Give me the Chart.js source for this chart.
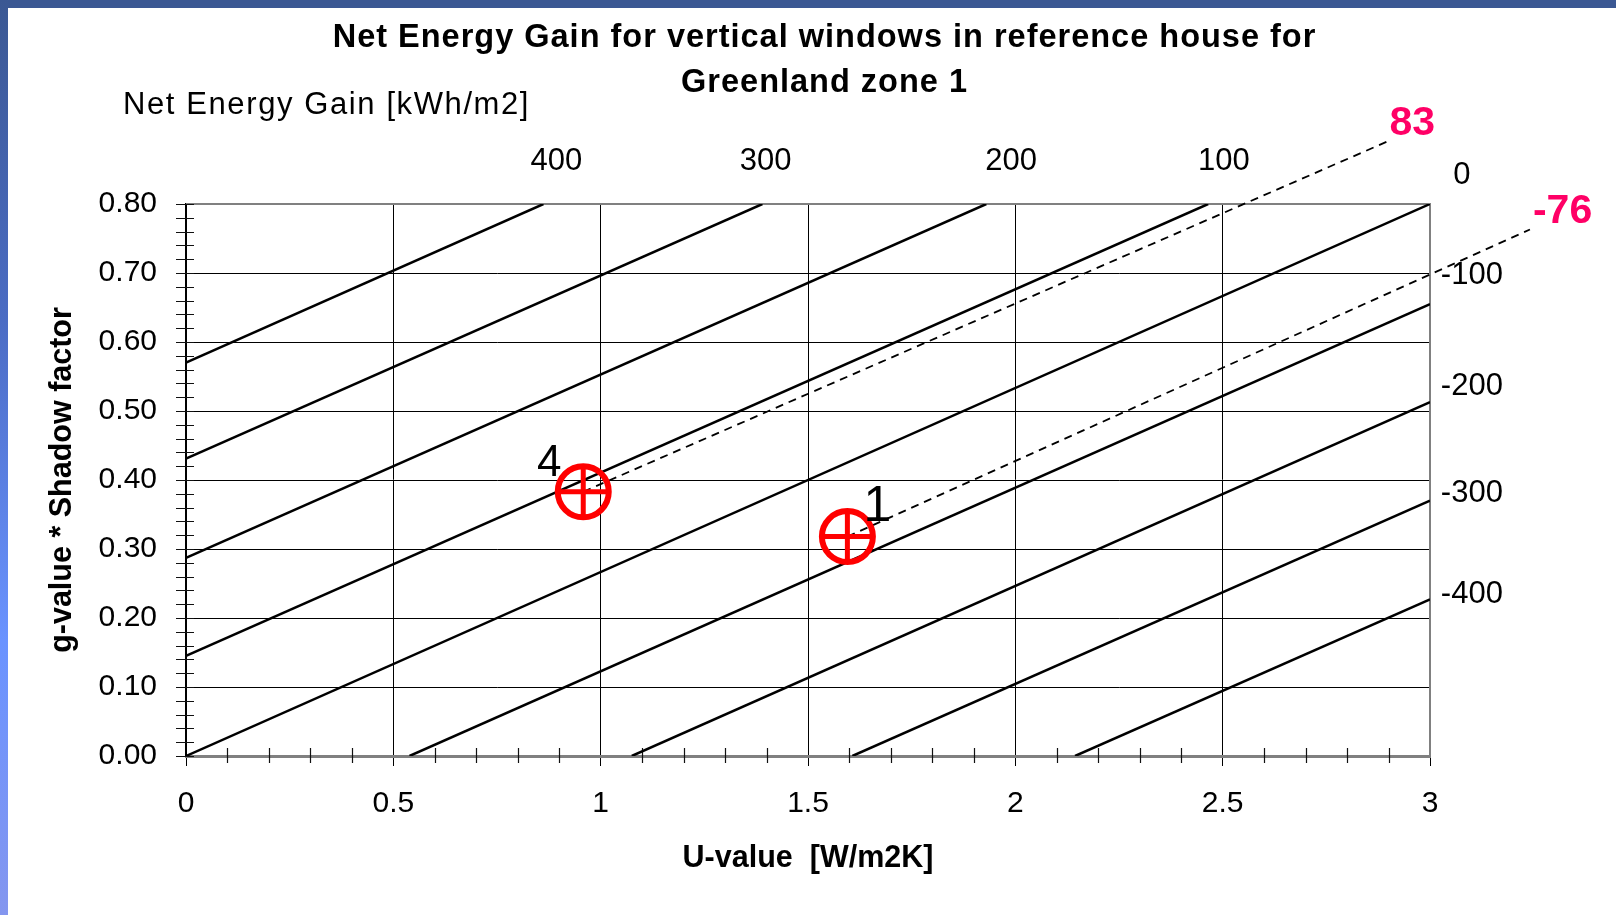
<!DOCTYPE html>
<html>
<head>
<meta charset="utf-8">
<script src="https://cdn.jsdelivr.net/npm/chart.js@4.4.1/dist/chart.umd.min.js"></script>
<style>
  html, body { margin: 0; padding: 0; background: #ffffff; width: 1616px; height: 915px; overflow: hidden; }
  #topbar { position: absolute; left: 0; top: 0; width: 1616px; height: 8px; background: #3b5893; }
  #leftbar { position: absolute; left: 0; top: 0; width: 8px; height: 915px;
             background: linear-gradient(#3b5893 0%, #4b6cc4 35%, #6a93ff 70%, #8496ef 100%); }
  #wrap { position: absolute; left: 0; top: 0; width: 1616px; height: 915px; }
</style>
</head>
<body>
<div id="topbar"></div>
<div id="leftbar"></div>
<div id="wrap"><canvas id="c" width="1616" height="915"></canvas></div>
<script>
// ---------------- text ----------------
const titleLines = ['Net Energy Gain for vertical windows in reference house for', 'Greenland zone 1'];
const xTitle = 'U-value  [W/m2K]';
const yTitle = 'g-value * Shadow factor';
const gainAxisTitle = 'Net Energy Gain [kWh/m2]';

// ---------------- iso-lines of net energy gain (kWh/m2) ----------------
const energyLevels = [400, 300, 200, 100, 0, -100, -200, -300, -400];
const lineStartU  = [0, 0, 0, 0, 0, 0.539, 1.075, 1.607, 2.144];
const lineStartG  = [0.570, 0.431, 0.287, 0.145, 0, 0, 0, 0, 0];
const lineEndU    = [0.862, 1.390, 1.930, 2.465, 3.0, 3.0, 3.0, 3.0, 3.0];
const lineEndG    = [0.800, 0.800, 0.800, 0.800, 0.800, 0.655, 0.513, 0.370, 0.227];

// ---------------- windows ----------------
const windowIds = ['4', '1'];
const windowU   = [0.958, 1.595];
const windowG   = [0.383, 0.318];
const gainValues = [83, -76];
const gainEndU   = [2.895, 3.241];
const gainEndG   = [0.890, 0.763];

// ---------------- energy labels around the plot ----------------
const topLabelValues   = [400, 300, 200, 100];
const topLabelU        = [0.893, 1.398, 1.990, 2.503];
const topLabelG        = 0.861;
const rightLabelValues = [0, -100, -200, -300, -400];
const rightLabelU      = [3.077, 3.101, 3.101, 3.101, 3.101];
const rightLabelG      = [0.841, 0.696, 0.536, 0.381, 0.234];

// ---------------- axes ----------------
const xMin = 0, xMax = 3, xStep = 0.5, xMinorStep = 0.1;
const yMin = 0, yMax = 0.8, yStep = 0.1, yMinorStep = 0.02;

// ---------------- styles ----------------
const FONT = "'Liberation Sans', Arial, Helvetica, sans-serif";
const RED = '#ff0000';
const PINK = '#ff0066';
const markerLabelOffsets = [[-34, -28], [30, -29]];
const markerLabelSizes = [44, 50];

const datasets = [];
datasets.push({
  label: 'window ring',
  data: windowU.map((u, i) => ({ x: u, y: windowG[i] })),
  showLine: false, pointStyle: 'circle', pointRadius: 25.5, pointBorderWidth: 6,
  pointBorderColor: RED, pointBackgroundColor: 'rgba(0,0,0,0)', clip: false
});
datasets.push({
  label: 'window cross',
  data: windowU.map((u, i) => ({ x: u, y: windowG[i] })),
  showLine: false, pointStyle: 'cross', pointRadius: 24, pointBorderWidth: 5,
  pointBorderColor: RED, pointBackgroundColor: RED, clip: false
});
gainValues.forEach((v, i) => {
  datasets.push({
    label: 'gain ' + v,
    data: [{ x: windowU[i], y: windowG[i] }, { x: gainEndU[i], y: gainEndG[i] }],
    showLine: true, borderColor: '#000', borderWidth: 1.8, borderDash: [8, 6],
    pointRadius: 0, clip: false
  });
});
energyLevels.forEach((e, i) => {
  datasets.push({
    label: e + ' kWh/m2',
    data: [{ x: lineStartU[i], y: lineStartG[i] }, { x: lineEndU[i], y: lineEndG[i] }],
    showLine: true, borderColor: '#000', borderWidth: 2.5, pointRadius: 0
  });
});

const annotations = {
  id: 'annotations',
  beforeDatasetsDraw(chart) {
    const { ctx, chartArea: a, scales: { x, y } } = chart;
    ctx.save();
    // frame top / right
    ctx.strokeStyle = '#808080';
    ctx.lineWidth = 2;
    ctx.beginPath();
    ctx.moveTo(a.left, a.top); ctx.lineTo(a.right, a.top); ctx.lineTo(a.right, a.bottom);
    ctx.stroke();
    // minor ticks
    ctx.strokeStyle = '#111';
    ctx.lineWidth = 1.2;
    ctx.beginPath();
    const ny = Math.round((yMax - yMin) / yMinorStep);
    for (let i = 0; i <= ny; i++) {
      const py = Math.round(y.getPixelForValue(yMin + i * yMinorStep)) + 0.5;
      ctx.moveTo(a.left - 10, py); ctx.lineTo(a.left + 8, py);
    }
    const nx = Math.round((xMax - xMin) / xMinorStep);
    const per = Math.round(xStep / xMinorStep);
    for (let i = 0; i <= nx; i++) {
      if (i % per === 0) continue;
      const px = Math.round(x.getPixelForValue(xMin + i * xMinorStep)) + 0.5;
      ctx.moveTo(px, a.bottom - 8); ctx.lineTo(px, a.bottom + 7);
    }
    ctx.stroke();
    ctx.restore();
  },
  afterDatasetsDraw(chart) {
    const { ctx, scales: { x, y } } = chart;
    ctx.save();
    ctx.textBaseline = 'middle';
    ctx.fillStyle = '#000';
    // title
    ctx.font = 'bold 32.5px ' + FONT;
    ctx.textAlign = 'center';
    ctx.letterSpacing = '1px';
    titleLines.forEach((t, i) => ctx.fillText(t, 824.5, 38 + i * 45));
    // gain axis caption
    ctx.font = '31px ' + FONT;
    ctx.textAlign = 'left';
    ctx.letterSpacing = '1.6px';
    ctx.fillText(gainAxisTitle, 123, 105);
    ctx.letterSpacing = '0px';
    // top / right energy labels
    ctx.font = '31px ' + FONT;
    ctx.textAlign = 'center';
    topLabelValues.forEach((v, i) => {
      ctx.fillText(String(v), x.getPixelForValue(topLabelU[i]), y.getPixelForValue(topLabelG));
    });
    rightLabelValues.forEach((v, i) => {
      ctx.fillText(String(v), x.getPixelForValue(rightLabelU[i]), y.getPixelForValue(rightLabelG[i]));
    });
    // window ids
    windowIds.forEach((id, i) => {
      ctx.font = markerLabelSizes[i] + 'px ' + FONT;
      const px = x.getPixelForValue(windowU[i]) + markerLabelOffsets[i][0];
      const py = y.getPixelForValue(windowG[i]) + markerLabelOffsets[i][1];
      ctx.fillText(id, px, py);
    });
    // gain results
    ctx.font = 'bold 41px ' + FONT;
    ctx.fillStyle = PINK;
    ctx.textAlign = 'left';
    gainValues.forEach((v, i) => {
      ctx.fillText(String(v), x.getPixelForValue(gainEndU[i]) + 3, y.getPixelForValue(gainEndG[i]) - 18);
    });
    ctx.restore();
  }
};

new Chart(document.getElementById('c'), {
  type: 'scatter',
  data: { datasets },
  options: {
    responsive: false,
    animation: false,
    events: [],
    devicePixelRatio: 1,
    layout: { padding: { left: 0, right: 186, top: 204, bottom: 0 } },
    plugins: { legend: { display: false }, tooltip: { enabled: false }, title: { display: false } },
    scales: {
      x: {
        type: 'linear', position: 'bottom', min: xMin, max: xMax,
        afterFit: (s) => { s.height = 159; },
        ticks: { stepSize: xStep, color: '#000', padding: 20, font: { family: FONT, size: 30 }, maxRotation: 0,
                 callback: (v) => String(Number(Number(v).toFixed(2))) },
        grid: {
          color: (c) => (c.tick && (c.tick.value === xMin || c.tick.value === xMax)) ? 'rgba(0,0,0,0)' : '#000',
          tickColor: '#000', lineWidth: 1, tickLength: 10
        },
        border: { display: true, color: '#808080', width: 3 },
        title: { display: true, text: xTitle, color: '#000', font: { family: FONT, size: 30.5, weight: 'bold' }, padding: { top: 0, bottom: 38 } }
      },
      y: {
        type: 'linear', position: 'left', min: yMin, max: yMax,
        afterFit: (s) => { s.width = 186; },
        ticks: { stepSize: yStep, color: '#000', padding: 29, font: { family: FONT, size: 30 },
                 callback: (v) => Number(v).toFixed(2) },
        grid: {
          color: (c) => (c.tick && (Math.abs(c.tick.value - yMin) < 1e-9 || Math.abs(c.tick.value - yMax) < 1e-9)) ? 'rgba(0,0,0,0)' : '#000',
          lineWidth: 1, drawTicks: false
        },
        border: { display: true, color: '#000', width: 2 },
        title: { display: true, text: yTitle, color: '#000', font: { family: FONT, size: 30.5, weight: 'bold' }, padding: { top: 44, bottom: 0 } }
      }
    }
  },
  plugins: [annotations]
});
</script>
</body>
</html>
